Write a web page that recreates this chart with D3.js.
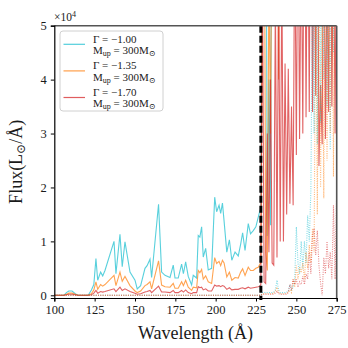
<!DOCTYPE html>
<html>
<head>
<meta charset="utf-8">
<script src="https://cdn.jsdelivr.net/npm/d3@7"></script>
<style>
  body { margin: 0; background: #fff; }
  text { font-family: "Liberation Serif", "DejaVu Serif", serif; fill: #1a1a1a; }
</style>
</head>
<body>
<script>
// wavelength grid (Å) for the solid spectra
const wlSolid = [100, 106, 107.5, 109, 111, 113, 114.5, 121, 123, 124.5, 125.8, 126.9, 128.7, 130, 131.4,
  137, 138.2, 140.7, 142.1, 143.8, 146.9, 150, 151.4, 153.5, 156.2, 157.5, 159.3, 160.3, 164.6, 166.5,
  168.6, 171.7, 173.7, 174.8, 176.8, 178.9, 180, 181.4, 183, 185.1, 186.1, 188.2, 189.2, 190.2, 191.3,
  192.3, 193.8, 195.4, 197.5, 199.4, 200.6, 202.1, 203.1, 204.2, 205.2, 206.9, 208.5, 210, 212, 214,
  215.5, 216.7, 218.2, 220.2, 221.6, 223.3, 224.9, 226.4, 227.4, 228,
  229, 230, 231, 232, 233, 234, 235, 236, 237, 238, 239, 240, 241, 242, 243, 244, 245, 246, 247, 248,
  249, 250, 251, 252, 253, 254, 255, 256, 257, 258, 259, 260, 261, 262, 263, 264, 265, 266, 267, 268,
  269, 270, 271, 272, 273, 274, 275];

// flux in units of 1e4 L_sun/Å
const fluxG100 = [0, 0, 0.05, 0.08, 0.08, 0.03, 0, 0, 0.1, 0.2, 0.68, 0.28, 0.43, 0.36, 0.46,
  1.0, 0.40, 1.13, 0.53, 0.99, 0.43, 0.28, 0.12, 0.18, 0.50, 0.55, 0.67, 0.33, 1.69, 0.43,
  0.37, 0.33, 0.56, 0.32, 0.32, 0.58, 0.40, 0.62, 0.35, 0.19, 0.37, 0.32, 1.11, 1.08, 1.27,
  0.71, 0.87, 0.47, 0.5, 1.82, 1.55, 1.67, 1.52, 1.71, 1.38, 0.80, 1.03, 0.65, 0.80, 0.73,
  0.95, 1.16, 0.83, 1.33, 1.14, 1.2, 1.27, 1.45, 1.57, 1.6,
  9, 6, 10, 1.1, 4.0, 1.3, 12, 8, 14, 10, 12, 9, 13, 11, 15, 10, 14, 12, 16, 11,
  15, 13, 17, 12, 16, 14, 18, 13, 17, 15, 19, 14, 18, 16, 20, 15, 19, 17, 21, 16,
  20, 18, 22, 17, 21, 19, 22];
const fluxG135 = [0, 0, 0.02, 0.04, 0.04, 0.02, 0, 0, 0.03, 0.1, 0.25, 0.11, 0.2, 0.17, 0.2,
  0.37, 0.18, 0.43, 0.26, 0.35, 0.18, 0.08, 0.05, 0.08, 0.18, 0.2, 0.25, 0.12, 0.64, 0.19,
  0.16, 0.15, 0.22, 0.13, 0.13, 0.25, 0.18, 0.28, 0.15, 0.09, 0.15, 0.14, 0.46, 0.42, 0.48,
  0.3, 0.36, 0.25, 0.22, 0.70, 0.59, 0.63, 0.55, 0.65, 0.6, 0.34, 0.43, 0.28, 0.33, 0.32,
  0.43, 0.49, 0.37, 0.52, 0.46, 0.46, 0.5, 0.52, 0.58, 0.6,
  7, 9, 0.8, 0.46, 6, 3, 8, 9, 6, 10, 4, 9, 8, 7, 10, 8, 11, 9, 12, 8,
  11, 10, 13, 9, 12, 10, 14, 9, 12, 11, 13, 10, 14, 12, 15, 11, 14, 13, 15, 12,
  14, 13, 16, 12, 15, 13, 16];
const fluxG170 = [0, 0, 0.01, 0.02, 0.02, 0.01, 0, 0, 0.01, 0.04, 0.09, 0.04, 0.07, 0.06, 0.07,
  0.12, 0.07, 0.15, 0.09, 0.12, 0.07, 0.04, 0.02, 0.03, 0.06, 0.07, 0.09, 0.05, 0.17, 0.06,
  0.06, 0.05, 0.09, 0.05, 0.05, 0.09, 0.06, 0.1, 0.05, 0.03, 0.05, 0.05, 0.16, 0.14, 0.15,
  0.1, 0.12, 0.08, 0.08, 0.19, 0.17, 0.18, 0.16, 0.18, 0.17, 0.11, 0.14, 0.1, 0.11, 0.11,
  0.13, 0.14, 0.12, 0.15, 0.13, 0.14, 0.15, 0.16, 0.17, 0.2,
  6, 0.25, 0.22, 3, 0.8, 4, 0.6, 0.56, 5.5, 0.7, 6, 1.0, 6, 1.0, 4.3, 1.5, 4.2, 1.7, 3.5, 1.67,
  7, 2.6, 8, 2.9, 7, 3.0, 9, 3.3, 8, 3.4, 10, 3.4, 7, 3.7, 9, 2.4, 3.9, 2.8, 8, 2.9,
  6, 3.4, 9, 3.5, 7, 3.0, 8];

// wavelength grid (Å) for the dotted spectra
const wlDotted = [100, 228, 229, 230, 231, 232, 233, 234, 235, 236, 237, 238, 239, 240, 241, 242, 243, 244,
  245, 246, 247, 248, 249, 250, 251, 252, 253, 254, 255, 256, 257, 258, 259, 260, 261, 262, 263, 264,
  265, 266, 267, 268, 269, 270, 271, 272, 273, 274, 275];
const dotG100 = [0, 0, 0.05, 0.05, 0.05, 0.05, 0.05, 0.05, 0.05, 0.06, 0.1, 0.28, 0.1, 0.05, 0.05, 0.05, 0.05, 0.06,
  0.08, 0.2, 0.1, 0.15, 0.3, 1.27, 0.6, 0.4, 1.0, 0.5, 1.0, 0.6, 1.48, 1.0, 1.95, 6, 3.0, 8, 2.8, 9,
  3.2, 7, 4, 9, 3.5, 8, 2.7, 10, 4.5, 8, 6];
const dotG135 = [0, 0, 0.03, 0.03, 0.03, 0.03, 0.03, 0.03, 0.03, 0.04, 0.08, 0.15, 0.05, 0.03, 0.03, 0.03, 0.03, 0.04,
  0.05, 0.1, 0.05, 0.3, 0.15, 0.55, 0.3, 0.52, 0.42, 0.6, 0.3, 0.8, 0.5, 0.93, 0.6, 1.24, 0.8, 6, 1.5, 7,
  2.0, 6, 1.8, 8, 2.5, 6, 3.0, 7, 2.2, 9, 6];
const dotG170 = [0, 0, 0.02, 0.02, 0.02, 0.02, 0.02, 0.02, 0.02, 0.02, 0.04, 0.08, 0.03, 0.02, 0.02, 0.02, 0.02, 0.02,
  0.05, 0.2, 0.1, 0.3, 0.2, 0.3, 0.15, 0.25, 0.2, 0.35, 0.2, 0.4, 0.3, 0.8, 0.4, 1.1, 1.24, 0.75, 1.2, 0.55,
  0.23, 0.0, 0.7, 0.4, 1.0, 0.5, 0.8, 0.3, 1.67, 0.3, 1.95];

const xTicks = [100, 125, 150, 175, 200, 225, 250, 275];
const yTicks = [0, 1, 2, 3, 4, 5];
const cutWl = 228;

const legendGamma = ["\u22121.00", "\u22121.35", "\u22121.70"];
const colors = ["#17becf", "#ff7f0e", "#d62728"];

const width = 348, height = 348;
const svg = d3.select("body").append("svg")
    .attr("width", width)
    .attr("height", height);

const x = d3.scaleLinear().domain([100, 275]).range([54.3, 336.7]);
const y = d3.scaleLinear().domain([-0.05, 5]).range([298, 25.7]);

svg.append("clipPath").attr("id", "plot")
  .append("rect")
    .attr("x", x.range()[0]).attr("y", y.range()[1])
    .attr("width", x.range()[1] - x.range()[0])
    .attr("height", y.range()[0] - y.range()[1]);

const plot = svg.append("g").attr("clip-path", "url(#plot)");

const line = d3.line().x(d => x(d[0])).y(d => y(d[1]));

// solid spectra
[fluxG100, fluxG135, fluxG170].forEach((vals, i) => {
  plot.append("path")
    .attr("d", line(wlSolid.map((w, k) => [w, vals[k]])))
    .attr("fill", "none")
    .attr("stroke", colors[i])
    .attr("stroke-opacity", 0.72)
    .attr("stroke-width", 1.1);
});

// dotted spectra
[dotG100, dotG135, dotG170].forEach((vals, i) => {
  plot.append("path")
    .attr("d", line(wlDotted.map((w, k) => [w, vals[k]])))
    .attr("fill", "none")
    .attr("stroke", colors[i])
    .attr("stroke-opacity", 0.55)
    .attr("stroke-width", 1.1)
    .attr("stroke-dasharray", "1,1.3");
});

// cut-off wavelength
svg.append("line")
  .attr("x1", x(cutWl)).attr("x2", x(cutWl))
  .attr("y1", y.range()[1]).attr("y2", y.range()[0] + 2)
  .attr("stroke", "#000")
  .attr("stroke-width", 3)
  .attr("stroke-dasharray", "7,3");

// spines
svg.append("line").attr("x1", x.range()[0]).attr("x2", x.range()[1])
  .attr("y1", y.range()[1]).attr("y2", y.range()[1]).attr("stroke", "#555").attr("stroke-width", 1.6);
svg.append("line").attr("x1", x.range()[1]).attr("x2", x.range()[1])
  .attr("y1", y.range()[1]).attr("y2", y.range()[0]).attr("stroke", "#555").attr("stroke-width", 1.6);

// axes
const xAxis = svg.append("g")
  .attr("transform", `translate(0,${y.range()[0]})`)
  .call(d3.axisBottom(x).tickValues(xTicks).tickSize(3.5).tickPadding(4));
const yAxis = svg.append("g")
  .attr("transform", `translate(${x.range()[0]},0)`)
  .call(d3.axisLeft(y).tickValues(yTicks).tickSize(3.5).tickPadding(4).tickFormat(d3.format("d")));

[xAxis, yAxis].forEach(a => {
  a.select(".domain").attr("stroke", "#000").attr("stroke-width", 1.2);
  a.selectAll(".tick line").attr("stroke", "#000").attr("stroke-width", 1);
  a.selectAll(".tick text")
    .style("font-family", "'Liberation Serif', serif")
    .style("font-size", "12.5px")
    .attr("fill", "#1a1a1a");
});

// offset label
const off = svg.append("text").attr("x", 54).attr("y", 21).style("font-size", "11.5px");
off.append("tspan").text("\u00d710");
off.append("tspan").attr("dy", -4).style("font-size", "8px").text("4");

// axis labels
svg.append("text")
  .attr("x", (x.range()[0] + x.range()[1]) / 2)
  .attr("y", 339)
  .attr("text-anchor", "middle")
  .style("font-size", "18px")
  .text("Wavelength (\u00c5)");

const yl = svg.append("text")
  .attr("transform", `translate(22,${(y.range()[0] + y.range()[1]) / 2}) rotate(-90)`)
  .attr("text-anchor", "middle")
  .style("font-size", "18px");
yl.append("tspan").text("Flux(L");
yl.append("tspan").attr("dy", 3).style("font-size", "12px").text("\u2299");
yl.append("tspan").attr("dy", -3).text("/\u00c5)");

// legend
const lg = svg.append("g").attr("transform", "translate(60,31)");
lg.append("rect")
  .attr("width", 103).attr("height", 80)
  .attr("rx", 3)
  .attr("fill", "#fff").attr("fill-opacity", 0.85)
  .attr("stroke", "#d0d0d0");

legendGamma.forEach((g, i) => {
  const row = lg.append("g").attr("transform", `translate(0,${5 + i * 26.6})`);
  row.append("line")
    .attr("x1", 3.5).attr("x2", 25)
    .attr("y1", 8.3).attr("y2", 8.3)
    .attr("stroke", colors[i]).attr("stroke-opacity", 0.75).attr("stroke-width", 1.2);
  row.append("text").attr("x", 33).attr("y", 6.5)
    .style("font-size", "11px")
    .text(`\u0393 = ${g}`);
  const t = row.append("text").attr("x", 33).attr("y", 18).style("font-size", "11px");
  t.append("tspan").text("M");
  t.append("tspan").attr("dy", 2).style("font-size", "8px").text("up");
  t.append("tspan").attr("dy", -2).text(" = 300M");
  t.append("tspan").attr("dy", 2).style("font-size", "8px").text("\u2299");
});
</script>
</body>
</html>
